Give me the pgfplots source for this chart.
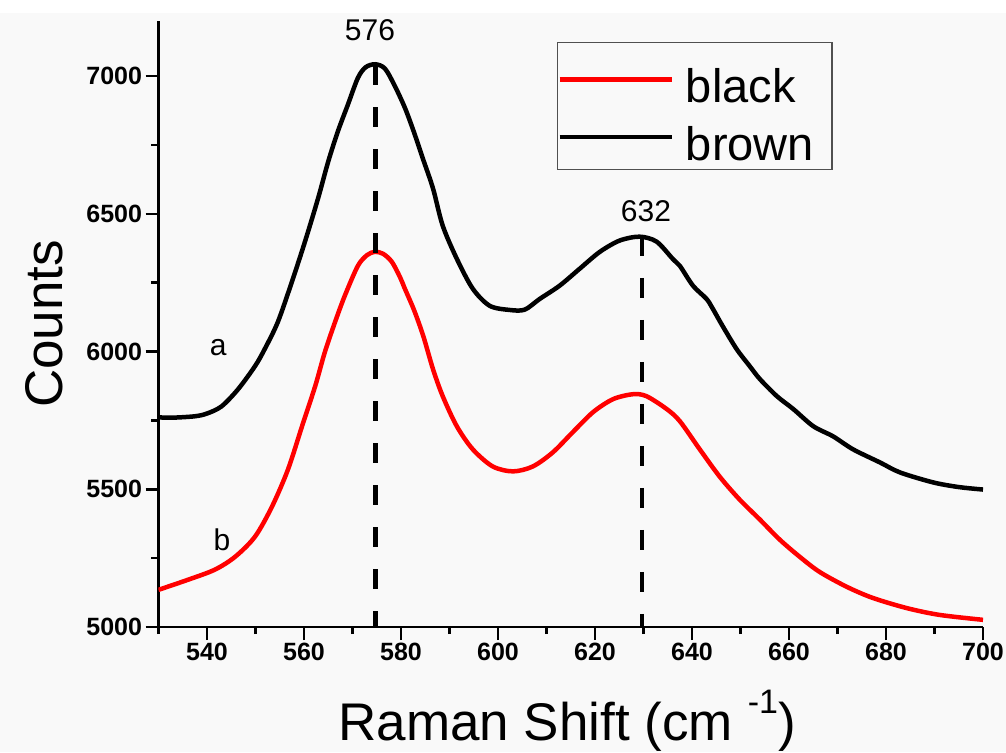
\documentclass[border=0pt]{standalone}
\usepackage{pgfplots}
\pgfplotsset{compat=1.18}
\usepackage{fontspec}
\setmainfont{Liberation Sans}
\definecolor{bg}{RGB}{249,249,249}
\definecolor{lgd}{RGB}{80,80,80}
\begin{document}
\begin{tikzpicture}
\useasboundingbox (-158.5pt,-125pt) rectangle (847.5pt,627pt);
\fill[bg] (-158.5pt,-125pt) rectangle (847.5pt,614pt);
\begin{axis}[
 scale only axis, width=824.5pt, height=606pt,
 xmin=530, xmax=700, ymin=5000, ymax=7200,
 axis x line=bottom, axis y line=left,
 axis line style={-, line width=2.5pt, black},
 xtick={540,560,...,700}, ytick={5000,5500,...,7000},
 minor xtick={530,550,...,690}, minor ytick={5250,5750,...,6750},
 tick align=outside,
 major tick length=13pt, minor tick length=7pt,
 tick style={black, line width=2.5pt},
 tick label style={font=\fontsize{25}{25}\selectfont\bfseries},
 /pgf/number format/assume math mode=true,
 /pgf/number format/1000 sep={},
 xlabel={Raman Shift (cm \raisebox{27pt}{\fontsize{34}{34}\selectfont -1})},
 ylabel={Counts},
 xlabel style={font=\fontsize{53}{53}\selectfont, at={(axis description cs:0.4955,-0.187)}, anchor=base},
 ylabel style={font=\fontsize{53}{53}\selectfont, at={(axis description cs:-0.117,0.5)}, anchor=base, rotate=0},
 clip mode=individual,
 legend style={at={(axis cs:612.1,7124)}, anchor=north west, draw=lgd, line width=1.5pt, fill=none,
   inner xsep=0pt, inner ysep=6pt, font=\fontsize{47}{47}\selectfont,
   cells={anchor=west, text height=52pt, text depth=6pt, inner sep=0pt},
   row sep=0pt, /tikz/every odd column/.append style={column sep=10pt}},
 legend image code/.code={\draw[#1, line width=4.5pt] (0pt,-2pt) -- (112pt,-2pt);},
]
\addplot[red, line width=4.5pt, smooth, tension=0.5, line join=round] coordinates {
(530,5135) (536,5171) (541.6,5208) (545.8,5255) (549.9,5328) (553.4,5437) (556.7,5572) (559.6,5729) (562.3,5874) (564.3,5998) (566.4,6107) (568.4,6202) (571.1,6311) (573,6350) (574.6,6362) (576.3,6355) (578.1,6326) (579.8,6270) (580.8,6228) (582.7,6150) (584.6,6056) (586.6,5936) (588.6,5838) (591.5,5729) (594.8,5645) (598.9,5583) (603.1,5565) (607.2,5583) (611.3,5634) (615.4,5707) (619.6,5780) (623.7,5827) (627.8,5845) (630.6,5838) (634.8,5791) (637.5,5747) (641.6,5645) (645.7,5546) (649.8,5463) (654,5390) (658.1,5317) (662.2,5255) (666.3,5200) (671.9,5146) (677.2,5106) (684.2,5069) (691,5044) (700,5026)
};
\addlegendentry{black\hspace*{16pt}}
\addplot[black, line width=4.5pt, smooth, tension=0.5, line join=round] coordinates {
(530,5761) (533,5760) (537.5,5765) (540,5775) (543,5801) (546.4,5863) (549.9,5947) (551.9,6009) (554.6,6107) (557.5,6253) (560.2,6399) (562.9,6556) (565,6690) (567,6800) (569,6894) (571.1,6993) (572.7,7032) (574.7,7043) (576.7,7027) (578.7,6965) (580.8,6885) (582.6,6800) (584.5,6701) (586.6,6592) (588.6,6457) (591.5,6337) (594.8,6228) (598.3,6166) (602.4,6151) (605.5,6152) (608.6,6191) (612.7,6239) (616.8,6300) (621,6362) (625.1,6403) (629.2,6417) (632.7,6399) (636,6337) (637.5,6311) (640.2,6239) (643,6191) (644.3,6155) (646.3,6093) (649.2,6009) (651.9,5947) (654,5900) (657.5,5838) (660.9,5791) (665,5729) (669.1,5692) (673.2,5645) (678.8,5597) (682.9,5561) (689.7,5525) (695,5508) (700,5499)
};
\addlegendentry{brown\hspace*{16pt}}
\addplot[forget plot, black, line width=4.5pt, dash pattern=on 20pt off 22pt] coordinates {(574.7,7040) (574.7,5000)};
\addplot[forget plot, black, line width=4.5pt, dash pattern=on 20pt off 22pt] coordinates {(629.7,6420) (629.7,5000)};
\node[font=\fontsize{30}{30}\selectfont] at (axis cs:573.6,7167) {576};
\node[font=\fontsize{30}{30}\selectfont] at (axis cs:630.5,6508) {632};
\node[font=\fontsize{30}{30}\selectfont] at (axis cs:542.3,6016) {a};
\node[font=\fontsize{30}{30}\selectfont] at (axis cs:543.1,5317) {b};
\end{axis}
\end{tikzpicture}
\end{document}
